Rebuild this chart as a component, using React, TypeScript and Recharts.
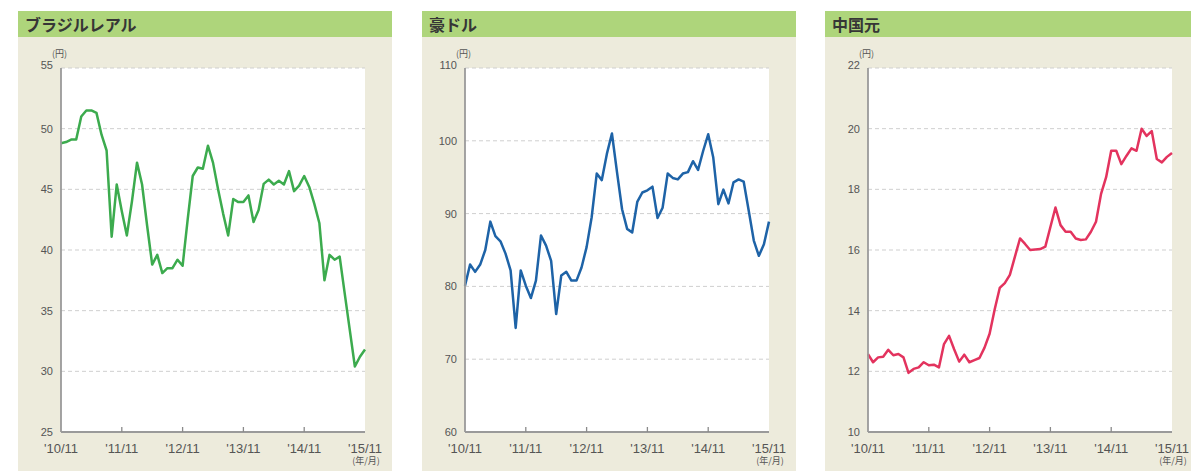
import React from 'react';
import { LineChart, Line, XAxis, YAxis, CartesianGrid } from 'recharts';

// Monthly points, 2010/11 .. 2015/11 (61 months)
const xTickIndex = [0, 12, 24, 36, 48, 60];
const xTickLabels = ["'10/11", "'11/11", "'12/11", "'13/11", "'14/11", "'15/11"];

const brlValues = [
  48.8, 48.9, 49.1, 49.1, 51.0, 51.5, 51.5, 51.3, 49.5, 48.2,
  41.1, 45.4, 43.2, 41.2, 44.0, 47.2, 45.4, 42.0, 38.8, 39.6,
  38.1, 38.5, 38.5, 39.2, 38.7, 42.5, 46.1, 46.8, 46.7, 48.6,
  47.2, 45.0, 43.0, 41.2, 44.2, 43.95, 43.95, 44.5, 42.3, 43.3,
  45.45, 45.8, 45.4, 45.7, 45.4, 46.5, 44.85, 45.3, 46.1, 45.2,
  43.8, 42.2, 37.5, 39.6, 39.2, 39.45, 36.4, 33.4, 30.4, 31.2,
  31.8,
];

const audValues = [
  80.1, 83.0, 82.0, 83.0, 85.0, 88.9, 86.9, 86.2, 84.5, 82.2,
  74.3, 82.2, 80.1, 78.4, 80.8, 87.0, 85.6, 83.5, 76.2, 81.5,
  82.0, 80.8, 80.8, 82.6, 85.4, 89.5, 95.5, 94.6, 98.2, 101.0,
  95.7, 90.6, 87.9, 87.4, 91.6, 92.9, 93.2, 93.7, 89.4, 90.8,
  95.5, 94.9, 94.7, 95.5, 95.7, 97.2, 96.0, 98.6, 100.9, 97.7,
  91.3, 93.3, 91.4, 94.3, 94.7, 94.4, 90.4, 86.3, 84.2, 85.8,
  88.9,
];

const cnyValues = [
  12.57, 12.3, 12.46, 12.48, 12.71, 12.53, 12.57, 12.46, 11.95, 12.08,
  12.13, 12.3, 12.2, 12.22, 12.13, 12.9, 13.17, 12.73, 12.32, 12.55,
  12.3, 12.37, 12.44, 12.78, 13.24, 14.04, 14.75, 14.91, 15.18, 15.78,
  16.38, 16.2, 16.0, 16.02, 16.03, 16.11, 16.76, 17.4, 16.82, 16.6,
  16.6, 16.38, 16.33, 16.35, 16.6, 16.93, 17.85, 18.4, 19.27, 19.27,
  18.83, 19.1, 19.35, 19.27, 20.0, 19.76, 19.92, 19.0, 18.89, 19.07,
  19.2,
];

const brlTicks = [25, 30, 35, 40, 45, 50, 55];
const audTicks = [60, 70, 80, 90, 100, 110];
const cnyTicks = [10, 12, 14, 16, 18, 20, 22];

const BORDER = '#9a9a9a';
const LABEL = '#555';

const XTick = (props: any) => {
  const { x, y, payload } = props;
  const idx = xTickIndex.indexOf(payload.value);
  const last = idx === xTickLabels.length - 1;
  const inner = idx > 0 && !last;
  return (
    <g>
      {inner && <line x1={x} x2={x} y1={y} y2={y - 5} stroke="#8a8a8a" strokeWidth={1.3} />}
      <text x={x} y={y + 21} textAnchor="middle" fill={LABEL} fontSize={13} fontFamily="'Liberation Sans', Arial, sans-serif">
        {xTickLabels[idx]}
      </text>
      {last && (
        <text x={x + 1} y={y + 32} textAnchor="middle" fill={LABEL} fontSize={9} fontFamily="'Noto Sans CJK JP', sans-serif">
          (年/月)
        </text>
      )}
    </g>
  );
};

const makeYTick = (maxVal: number) => (props: any) => {
  const { x, y, payload } = props;
  const top = payload.value === maxVal;
  return (
    <g>
      <text x={x} y={y + (top ? 1 : 4)} textAnchor="end" fill={LABEL} fontSize={11} fontFamily="'Liberation Sans', sans-serif">
        {payload.value}
      </text>
      {top && (
        <text x={x - 1} y={y - 11} textAnchor="start" fill={LABEL} fontSize={9} fontFamily="'Noto Sans CJK JP', sans-serif">
          (円)
        </text>
      )}
    </g>
  );
};

type PanelProps = {
  title: string;
  values: number[];
  ticks: number[];
  color: string;
  left: number;
};

const Panel = ({ title, values, ticks, color, left }: PanelProps) => {
  const data = values.map((v, i) => ({ i, v }));
  const lo = ticks[0];
  const hi = ticks[ticks.length - 1];
  return (
    <div style={{ position: 'absolute', left, top: 11, width: 374, height: 460 }}>
      <div
        style={{
          height: 26,
          background: '#aed57b',
          color: '#363636',
          fontFamily: "'Noto Sans CJK JP', sans-serif",
          fontWeight: 700,
          fontSize: 16,
          lineHeight: '26px',
          paddingLeft: 7,
          boxSizing: 'border-box',
        }}
      >
        {title}
      </div>
      <div style={{ background: '#edebdc', height: 434 }}>
        <LineChart width={374} height={434} data={data} margin={{ top: 31, right: 27, bottom: 0, left: 0 }}>
          <CartesianGrid vertical={false} fill="#ffffff" stroke="#cfcfcf" strokeDasharray="4 3" />
          <XAxis
            dataKey="i"
            type="number"
            domain={[0, 60]}
            ticks={xTickIndex}
            interval={0}
            height={39}
            tickSize={0}
            tickMargin={0}
            tickLine={false}
            axisLine={{ stroke: BORDER, strokeWidth: 1.8 }}
            tick={<XTick />}
          />
          <XAxis
            xAxisId="top"
            orientation="top"
            dataKey="i"
            type="number"
            domain={[0, 60]}
            height={0}
            tick={false}
            tickLine={false}
            axisLine={{ stroke: BORDER, strokeWidth: 1.8 }}
          />
          <YAxis
            type="number"
            domain={[lo, hi]}
            ticks={ticks}
            interval={0}
            width={43}
            tickSize={0}
            tickMargin={8}
            tickLine={false}
            axisLine={{ stroke: BORDER, strokeWidth: 1.8 }}
            tick={makeYTick(hi)}
          />
          <YAxis
            yAxisId="right"
            orientation="right"
            type="number"
            domain={[lo, hi]}
            width={0}
            tick={false}
            tickLine={false}
            axisLine={{ stroke: BORDER, strokeWidth: 1.8 }}
          />
          <Line
            type="linear"
            dataKey="v"
            stroke={color}
            strokeWidth={2.5}
            strokeLinejoin="round"
            dot={false}
            activeDot={false}
            isAnimationActive={false}
          />
        </LineChart>
      </div>
    </div>
  );
};

export default function App() {
  return (
    <div style={{ position: 'absolute', left: 0, top: 0, width: 1191, height: 471, overflow: 'hidden', background: '#fff' }}>
      <Panel title="ブラジルレアル" values={brlValues} ticks={brlTicks} color="#3cab4e" left={18} />
      <Panel title="豪ドル" values={audValues} ticks={audTicks} color="#1e63a7" left={422} />
      <Panel title="中国元" values={cnyValues} ticks={cnyTicks} color="#e3335e" left={825} />
    </div>
  );
}
